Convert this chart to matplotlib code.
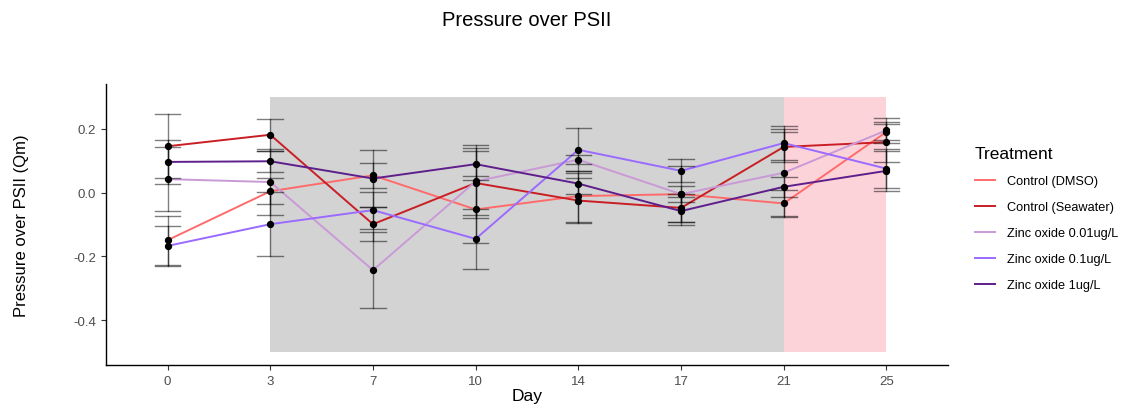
import matplotlib
matplotlib.use("Agg")
import matplotlib.pyplot as plt
from matplotlib.patches import Rectangle
from matplotlib.lines import Line2D

plt.rcParams['font.family'] = ['Liberation Sans', 'DejaVu Sans']

days = ["0", "3", "7", "10", "14", "17", "21", "25"]
treatments = ["Control (DMSO)", "Control (Seawater)", "Zinc oxide 0.01ug/L",
              "Zinc oxide 0.1ug/L", "Zinc oxide 1ug/L"]
colors = ["#FF6B6B", "#C81E24", "#C99AD6", "#9B6BFF", "#5E1F8C"]

dmso      = [-0.149, 0.004, 0.054, -0.053, -0.011, -0.005, -0.034, 0.190]
seawater  = [0.145, 0.181, -0.099, 0.030, -0.025, -0.048, 0.143, 0.158]
zn001     = [0.042, 0.033, -0.243, 0.035, 0.103, -0.005, 0.062, 0.195]
zn01      = [-0.167, -0.099, -0.055, -0.145, 0.134, 0.068, 0.155, 0.075]
zn1       = [0.096, 0.098, 0.044, 0.089, 0.028, -0.058, 0.018, 0.068]

dmso_err     = [0.077, 0.041, 0.039, 0.105, 0.080, 0.087, 0.041, 0.026]
seawater_err = [0.100, 0.050, 0.053, 0.100, 0.070, 0.045, 0.047, 0.062]
zn001_err    = [0.100, 0.103, 0.120, 0.115, 0.014, 0.025, 0.136, 0.040]
zn01_err     = [0.063, 0.100, 0.058, 0.095, 0.068, 0.036, 0.053, 0.060]
zn1_err      = [0.070, 0.033, 0.090, 0.050, 0.032, 0.044, 0.031, 0.063]

# shaded phases: (start index, end index, colour)
phase_start = [1, 6]
phase_end = [6, 7]
phase_colors = ["#D3D3D3", "#FDD3DA"]
phase_ymin, phase_ymax = -0.5, 0.3

series = [dmso, seawater, zn001, zn01, zn1]
errs = [dmso_err, seawater_err, zn001_err, zn01_err, zn1_err]

fig = plt.figure(figsize=(11.3, 4.06), dpi=100)
ax = fig.add_axes([106/1130, 40/406, (948-106)/1130, (366-85)/406])

for s, e, c in zip(phase_start, phase_end, phase_colors):
    ax.add_patch(Rectangle((s, phase_ymin), e - s, phase_ymax - phase_ymin,
                           facecolor=c, edgecolor='none', zorder=0))

x = list(range(len(days)))
for vals, err, col in zip(series, errs, colors):
    ax.plot(x, vals, color=col, lw=1.4, zorder=2)
for vals, err in zip(series, errs):
    for xi, v, e in zip(x, vals, err):
        ax.plot([xi, xi], [v - e, v + e], color='black', alpha=0.5, lw=1.0, zorder=3)
        for yy in (v - e, v + e):
            ax.plot([xi - 0.125, xi + 0.125], [yy, yy], color='black', alpha=0.5, lw=1.0, zorder=3)
    ax.scatter(x, vals, s=18, color='black', zorder=4)

ax.set_xlim(-0.6, 7.6)
ax.set_ylim(-0.54, 0.34)
ax.set_xticks(x)
ax.set_xticklabels(days)
ax.set_yticks([0.2, 0.0, -0.2, -0.4])
ax.set_yticklabels(["0.2", "0.0", "-0.2", "-0.4"])
ax.tick_params(axis='both', colors='#333333', labelsize=9.5, length=3.5, width=0.8,
               labelcolor='#4D4D4D')
for side in ['top', 'right']:
    ax.spines[side].set_visible(False)
for side in ['left', 'bottom']:
    ax.spines[side].set_linewidth(1.0)
    ax.spines[side].set_color('black')
ax.set_xlabel("Day", fontsize=12.5, labelpad=1)
ax.set_ylabel("Pressure over PSII (Qm)", fontsize=12, labelpad=32)

fig.text(527/1130, 1 - 20/406, "Pressure over PSII", ha='center', va='center', fontsize=14.5)

handles = [Line2D([0], [0], color=c, lw=1.4) for c in colors]
leg = fig.legend(handles, treatments, title="Treatment", loc='upper left',
                 bbox_to_anchor=(966/1130, 1 - 138/406), frameon=False,
                 fontsize=9.2, title_fontsize=12.5, handlelength=1.6,
                 labelspacing=1.1, handletextpad=0.9, borderaxespad=0.3)
leg._legend_box.align = "left"

fig.savefig("out.png", dpi=100)
